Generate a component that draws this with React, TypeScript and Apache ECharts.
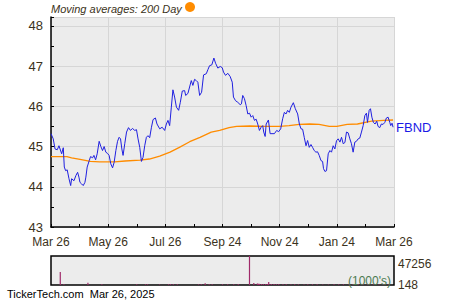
import React, { useEffect, useRef } from "react";
import * as echarts from "echarts";

// Days since Mar 26 2024, closing price
const priceDays = [0, 2.4, 4.3, 6.7, 8.5, 11.4, 13.1, 14.2, 15.6, 17.3, 19.2, 21.0, 22.0, 24.5, 26.6, 28.4, 29.8, 30.9, 32.7, 34.4, 36.2, 37.2, 38.6, 40.8, 42.2, 44.4, 45.8, 47.6, 49.3, 51.4, 53.2, 55.0, 56.7, 58.5, 60.3, 62.0, 63.8, 65.7, 67.4, 69.2, 71.0, 72.7, 74.2, 75.6, 76.9, 78.7, 80.6, 82.7, 84.8, 86.9, 89.4, 91.2, 92.9, 94.7, 96.5, 98.2, 100.0, 101.8, 103.5, 105.3, 107.2, 108.9, 111.4, 113.1, 116.0, 118.6, 121.3, 123.1, 124.8, 126.6, 128.4, 130.1, 131.9, 133.8, 136.2, 138.0, 140.1, 142.6, 143.7, 146.1, 147.9, 149.7, 151.4, 153.2, 155.0, 156.7, 158.6, 160.7, 162.8, 165.7, 167.4, 169.2, 171.6, 173.8, 175.6, 178.0, 180.6, 182.7, 184.1, 186.2, 188.7, 191.2, 193.4, 194.7, 196.9, 199.3, 201.9, 203.2, 204.6, 206.4, 208.2, 210.0, 211.8, 213.6, 215.3, 217.1, 218.9, 220.6, 222.4, 224.2, 225.9, 227.0, 228.5, 229.6, 232.0, 233.8, 238.4, 240.8, 242.9, 245.1, 247.2, 249.0, 250.8, 252.5, 254.3, 256.1, 258.6, 260.7, 263.2, 265.0, 266.8, 268.5, 270.3, 272.1, 273.8, 275.6, 277.4, 279.1, 280.9, 282.7, 284.4, 286.2, 288.1, 289.8, 290.8, 292.3, 294.0, 295.8, 297.6, 299.3, 301.1, 302.9, 304.7, 306.5, 308.3, 310.0, 311.8, 313.6, 315.3, 317.1, 318.9, 320.6, 322.4, 324.2, 325.9, 327.7, 329.5, 331.3, 333.1, 334.9, 336.6, 337.7, 339.5, 340.9, 342.4, 344.0, 345.8, 347.6, 349.0, 350.8, 352.5, 354.3, 356.2, 357.9, 359.7, 361.5, 362.5, 363.9, 365];
const priceValues = [45.32, 45.19, 44.94, 44.92, 45.02, 44.82, 44.97, 44.49, 44.40, 44.42, 44.20, 44.03, 44.20, 44.15, 44.28, 44.36, 44.24, 44.11, 44.07, 44.03, 44.11, 44.24, 44.49, 44.65, 44.75, 44.72, 44.78, 44.67, 44.82, 45.13, 45.00, 44.90, 45.00, 44.86, 44.83, 44.78, 44.57, 44.47, 44.61, 44.90, 45.13, 45.23, 45.19, 44.94, 44.78, 45.07, 45.36, 45.47, 45.40, 45.45, 45.40, 45.42, 45.19, 44.98, 44.63, 44.73, 45.02, 45.23, 45.27, 45.22, 45.48, 45.67, 45.71, 45.56, 45.44, 45.48, 45.40, 45.56, 45.65, 45.52, 45.98, 46.41, 46.23, 45.98, 45.90, 46.10, 46.38, 46.39, 46.27, 46.32, 46.48, 46.64, 46.52, 46.67, 46.64, 46.60, 46.27, 46.35, 46.78, 46.81, 46.91, 47.01, 47.03, 47.20, 47.07, 46.95, 46.99, 46.96, 46.85, 46.77, 46.82, 46.74, 46.60, 46.23, 46.14, 46.10, 46.04, 46.06, 46.27, 46.19, 46.02, 45.81, 45.83, 45.73, 45.77, 45.65, 45.68, 45.56, 45.40, 45.48, 45.52, 45.36, 45.25, 45.56, 45.66, 45.32, 45.32, 45.40, 45.37, 45.44, 45.69, 45.85, 45.81, 45.90, 45.85, 45.98, 46.09, 45.94, 45.81, 45.56, 45.44, 45.43, 45.22, 45.02, 45.15, 44.98, 45.05, 44.98, 44.90, 44.86, 44.87, 44.78, 44.65, 44.63, 44.45, 44.38, 44.40, 44.82, 44.90, 44.86, 45.02, 44.94, 45.15, 45.19, 45.11, 45.23, 45.07, 45.10, 45.36, 45.34, 45.19, 45.07, 44.86, 45.11, 45.13, 45.19, 45.21, 45.36, 45.52, 45.77, 45.83, 45.60, 45.90, 45.94, 45.73, 45.60, 45.56, 45.63, 45.50, 45.47, 45.56, 45.55, 45.60, 45.71, 45.73, 45.60, 45.52, 45.58, 45.48];

// 200 day moving average
const maDays = [0, 17, 22, 31, 42, 52, 68, 79, 95, 105, 116, 127, 137, 148, 159, 171, 180, 190, 198, 212, 228, 244, 254, 265, 276, 286, 297, 305, 316, 327, 342, 355, 365];
const maValues = [44.75, 44.75, 44.72, 44.68, 44.63, 44.62, 44.62, 44.64, 44.66, 44.69, 44.76, 44.86, 44.98, 45.12, 45.23, 45.36, 45.40, 45.47, 45.50, 45.51, 45.50, 45.50, 45.52, 45.55, 45.56, 45.55, 45.50, 45.50, 45.55, 45.56, 45.63, 45.65, 45.66];

// Volume (shares)
const volumeDays = [9.9, 13.8, 39.4, 54.3, 91.5, 100.8, 103.0, 115.8, 125.4, 127.5, 130.5, 134.8, 157.4, 160.3, 164.5, 168.8, 172.0, 183.0, 188.5, 195.0, 199.8, 211.8, 216.4, 220.2, 221.3, 222.4, 224.5, 226.5, 229.1, 230.8, 232.3, 235.0, 238.0, 240.5, 243.0, 247.5, 251.0, 256.0, 260.0, 264.0, 270.0, 274.0, 279.0, 284.0, 290.0, 296.0, 302.0, 307.0, 312.0, 318.0, 322.0, 328.0, 333.0, 338.0, 344.0, 350.0, 355.0, 360.0];
const volumeValues = [29000, 1500, 5000, 1800, 1500, 1500, 1500, 1200, 1800, 1800, 1800, 1800, 1500, 1500, 4000, 1500, 1500, 1700, 1700, 1600, 2000, 65000, 4500, 3500, 3000, 2600, 2400, 2200, 2400, 2000, 7000, 2200, 2000, 1800, 2000, 1600, 1500, 1300, 1500, 1400, 1300, 1500, 1600, 1500, 1400, 1300, 1500, 1600, 1500, 1400, 1400, 1500, 1300, 1300, 1200, 1200, 1300, 1200];

const xTickLabels = ["Mar 26", "May 26", "Jul 26", "Sep 24", "Nov 24", "Jan 24", "Mar 26"];
const volumeLabels = [148, 47256];

const labelColor = "#3b3220";
const font = "Liberation Sans, Arial, sans-serif";

export default function App() {
  const ref = useRef<HTMLDivElement>(null);
  useEffect(() => {
    if (!ref.current) return;
    const chart = echarts.init(ref.current, undefined, { renderer: "svg" });
    const price = priceDays.map((d, i) => [d, priceValues[i]]);
    const ma = maDays.map((d, i) => [d, maValues[i]]);
    const vol = volumeDays.map((d, i) => [d, volumeValues[i]]);
    chart.setOption({
      animation: false,
      textStyle: { fontFamily: font },
      grid: [
        { left: 51, top: 17, width: 343, height: 210, show: true, backgroundColor: "#ececec", borderWidth: 0, outerBoundsMode: "none" },
        { left: 51, top: 256, width: 343, height: 29, show: true, backgroundColor: "#ececec", borderColor: "#000", borderWidth: 1.5, outerBoundsMode: "none" },
      ],
      xAxis: [
        {
          type: "value", gridIndex: 0, min: 0, max: 366, interval: 61,
          axisLine: { show: true, onZero: false, lineStyle: { color: "#000", width: 1.5 } },
          axisTick: { show: true, inside: true, length: 3, lineStyle: { color: "#000" } },
          minorTick: { show: true, splitNumber: 2, length: 3, lineStyle: { color: "#000" } },
          splitLine: { show: true, lineStyle: { color: "#d6d6d6", width: 1 } },
          axisLabel: {
            color: labelColor, fontSize: 12, margin: 9, fontFamily: font,
            formatter: (v: number) => xTickLabels[Math.round(v / 61)] ?? "",
          },
        },
        {
          type: "value", gridIndex: 1, min: 0, max: 366,
          axisLine: { show: false }, axisTick: { show: false }, splitLine: { show: false }, axisLabel: { show: false },
        },
      ],
      yAxis: [
        {
          type: "value", gridIndex: 0, min: 43, max: 48.22, interval: 1,
          axisLine: { show: true, lineStyle: { color: "#000", width: 1.5 } },
          axisTick: { show: true, inside: true, length: 3, lineStyle: { color: "#000" } },
          minorTick: { show: true, splitNumber: 2, length: 3, lineStyle: { color: "#000" } },
          splitLine: { show: true, lineStyle: { color: "#d6d6d6", width: 1 } },
          axisLabel: { color: labelColor, fontSize: 13, margin: 8, fontFamily: font },
        },
        {
          type: "value", gridIndex: 1, min: 0, max: 65000, position: "right",
          axisLine: { show: false }, axisTick: { show: false }, splitLine: { show: false },
          axisLabel: {
            color: labelColor, fontSize: 12, margin: 4, fontFamily: font, customValues: volumeLabels,
            formatter: (v: number) => String(v),
          },
        },
      ],
      series: [
        {
          type: "line", xAxisIndex: 0, yAxisIndex: 0, data: ma, showSymbol: false,
          lineStyle: { color: "#ff8c00", width: 1.3 }, z: 3,
        },
        {
          type: "line", xAxisIndex: 0, yAxisIndex: 0, data: price, showSymbol: false,
          lineStyle: { color: "#2020e0", width: 1 }, z: 4,
          endLabel: { show: true, formatter: "FBND", color: "#1a1ae6", fontSize: 13, distance: 3, fontFamily: font },
        },
        {
          type: "bar", xAxisIndex: 1, yAxisIndex: 1, data: vol, barWidth: 1.2,
          itemStyle: { color: "#a02a6a" },
        },
      ],
      graphic: [
        { type: "text", left: 51, top: 3, style: { text: "Moving averages: 200 Day", fontSize: 11, fontStyle: "italic", fill: labelColor, fontFamily: font } },
        { type: "circle", shape: { cx: 190, cy: 7, r: 5 }, style: { fill: "#ff8c00" } },
        { type: "text", left: 348, top: 275, style: { text: "(1000's)", fontSize: 12, fill: "#4b7a50", fontFamily: font } },
        { type: "text", left: 7, top: 288, style: { text: "TickerTech.com  Mar 26, 2025", fontSize: 11, fill: "#000", fontFamily: font } },
      ],
    });
    return () => chart.dispose();
  }, []);
  return <div ref={ref} style={{ position: "absolute", left: 0, top: 0, width: 450, height: 300 }} />;
}
